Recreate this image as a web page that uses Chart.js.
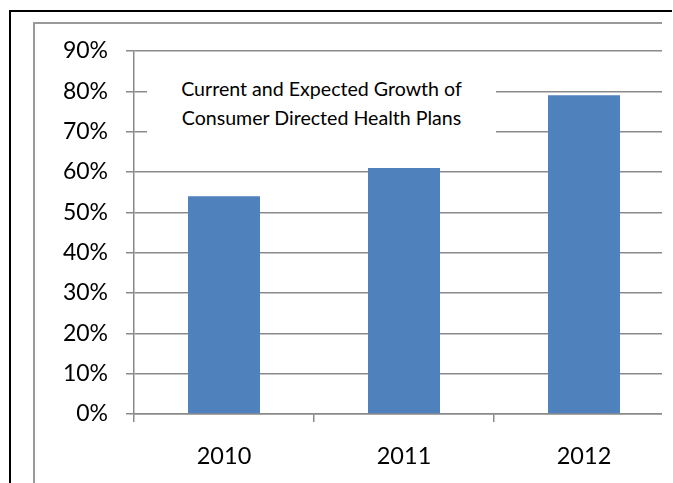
<!DOCTYPE html>
<html>
<head>
<meta charset="utf-8">
<script src="https://cdn.jsdelivr.net/npm/chart.js@4"></script>
<style>
  html, body { margin: 0; padding: 0; background: #fff; overflow: hidden; }
  body { width: 673px; height: 483px; position: relative; font-family: Lato, sans-serif; }
  #outer {
    position: absolute; left: 9px; top: 10px; width: 661px; height: 480px;
    border-left: 2px solid #000; border-top: 2px solid #000;
  }
  #inner {
    position: absolute; left: 33px; top: 22px; width: 627px; height: 470px;
    border-left: 2px solid #999; border-top: 2px solid #999; overflow: hidden;
  }
  #chartBox { position: absolute; left: -35px; top: -24px; }
  #titleBox {
    position: absolute; left: 147px; top: 74px; width: 349px; height: 74px;
    background: #fff; color: #000; text-align: center;
    font-size: 19.6px; line-height: 29px;
  }
</style>
</head>
<body>
<div id="outer"></div>
<div id="inner">
  <div id="chartBox"><canvas id="barChart" width="700" height="483" style="width:700px;height:483px"></canvas></div>
</div>
<div id="titleBox">Current and Expected Growth of<br>Consumer Directed Health Plans</div>
<script>
// chart data
const years = ['2010', '2011', '2012'];
const growth = [54, 61, 79];
const yTicks = [0, 10, 20, 30, 40, 50, 60, 70, 80, 90];

const axisGray = '#8a8a8a';

Chart.defaults.font.family = 'Lato, sans-serif';
Chart.defaults.color = '#000';

new Chart(document.getElementById('barChart'), {
  type: 'bar',
  data: {
    labels: years,
    datasets: [{
      label: 'Growth',
      data: growth,
      backgroundColor: '#4F81BD',
      categoryPercentage: 1,
      barPercentage: 0.4,
    }]
  },
  options: {
    responsive: false,
    animation: false,
    layout: { padding: { left: 0, top: 51, right: 26, bottom: 0 } },
    plugins: {
      legend: { display: false },
      tooltip: { enabled: false },
      title: { display: false }
    },
    scales: {
      x: {
        grid: { drawOnChartArea: false, drawTicks: true, tickLength: 8, color: axisGray, lineWidth: 1.5 },
        border: { color: axisGray, width: 1.5 },
        ticks: { font: { size: 23.5 }, padding: 20, maxRotation: 0 },
        afterFit: function(scale) { scale.height = 69; }
      },
      y: {
        min: 0,
        max: 90,
        afterBuildTicks: function(scale) {
          scale.ticks = yTicks.map(v => ({ value: v }));
        },
        grid: { color: axisGray, lineWidth: 1.5, tickLength: 8 },
        border: { color: axisGray, width: 1.5 },
        ticks: {
          font: { size: 23 },
          padding: 18,
          callback: function(v) { return v + '%'; }
        },
        afterFit: function(scale) { scale.width = 134; }
      }
    }
  }
});
</script>
</body>
</html>
